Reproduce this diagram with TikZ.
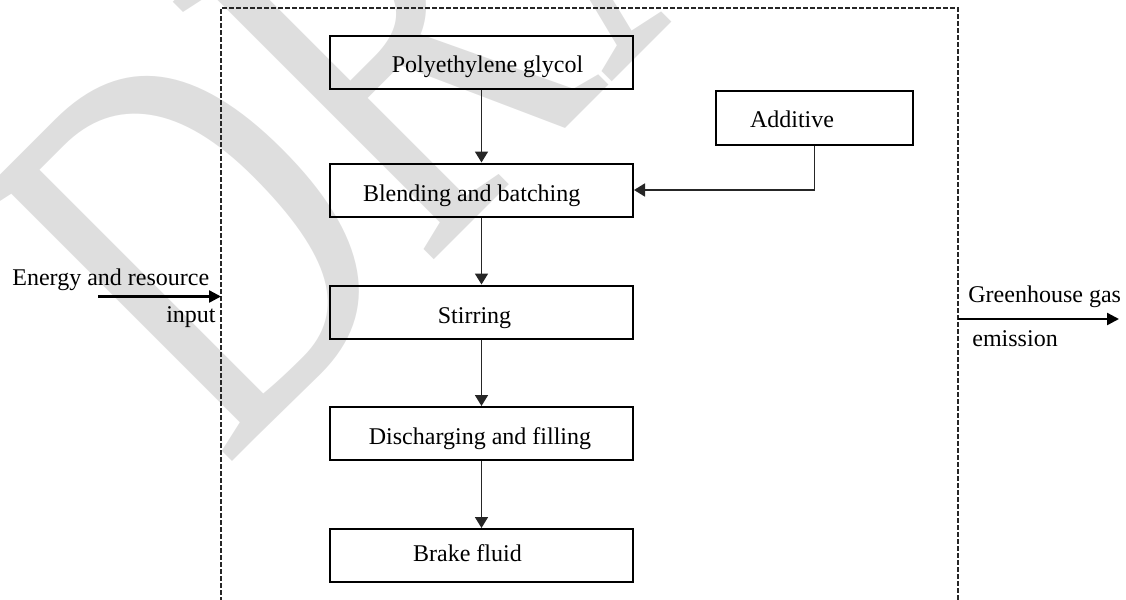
\documentclass[tikz,border=0pt]{standalone}
\usepackage{fontspec}
\setmainfont{Liberation Serif}
\usetikzlibrary{arrows.meta}
\begin{document}
\begin{tikzpicture}[x=0.5pt,y=-0.5pt,
  box/.style={draw=black, line width=1pt, minimum width=151.5pt,
    minimum height=26.5pt, inner sep=0pt},
  lbl/.style={anchor=base, inner sep=0pt, font=\fontsize{12pt}{14pt}\selectfont},
  flow/.style={draw=black!85, line width=0.9pt,
    -{Triangle[length=5.5pt,width=6.5pt]}},
  io/.style={draw=black, line width=1.2pt, -{Triangle[length=6pt,width=6pt]}},
  sysframe/.style={draw=black!85, line width=0.7pt, dash pattern=on 2.5pt off 1pt},
  wmark/.style={anchor=base west, rotate=45, inner sep=0pt, text=black!13,
    font=\fontsize{280pt}{280pt}\selectfont}]
\useasboundingbox (0,0) rectangle (1126,600);

% background watermark
\node[wmark] (wm) at (224,470) {\scalebox{0.70}[1]{DRAFT}};

% process chain
\node[box] (poly)  at (481.5,62.5)  {};
\node[box] (blend) at (481.5,190)   {};
\node[box] (stir)  at (481.5,312)   {};
\node[box] (disc)  at (481.5,433.5) {};
\node[box] (brake) at (481.5,555.5) {};
\node[box, minimum width=98.5pt, minimum height=27pt] (add) at (814.5,118) {};

\node[lbl] (poly-t)  at (487.5,72)    {Polyethylene glycol};
\node[lbl] (blend-t) at (471.7,201.7) {Blending and batching};
\node[lbl] (stir-t)  at (474.5,323.4) {Stirring};
\node[lbl] (disc-t)  at (480,444)     {Discharging and filling};
\node[lbl] (brake-t) at (467.5,561.5) {Brake fluid};
\node[lbl] (add-t)   at (792,127)     {Additive};

\draw[flow] (poly) -- (blend);
\draw[flow] (blend) -- (stir);
\draw[flow] (stir) -- (disc);
\draw[flow] (disc) -- (brake);
\draw[flow] (add.south) |- (blend.east);

% system boundary (open at the bottom)
\coordinate (fl-b) at (221,602);
\coordinate (fl-t) at (221,8);
\coordinate (fr-t) at (958,8);
\coordinate (fr-b) at (958,602);
\draw[sysframe] (fl-b) -- (fl-t) -- (fr-t) -- (fr-b);

% input and output flows
\coordinate (in-s) at (98,296.5);
\coordinate (in-e) at (221,296.5);
\draw[io] (in-s) -- (in-e);
\node[lbl, anchor=base west] (in-t1) at (12,285) {Energy and resource};
\node[lbl, anchor=base east] (in-t2) at (216,322.7) {input};

\coordinate (out-s) at (958,319);
\coordinate (out-e) at (1119,319);
\draw[io] (out-s) -- (out-e);
\node[lbl, anchor=base west] (out-t1) at (968,302) {Greenhouse gas};
\node[lbl, anchor=base west] (out-t2) at (972,346) {emission};
\end{tikzpicture}
\end{document}
